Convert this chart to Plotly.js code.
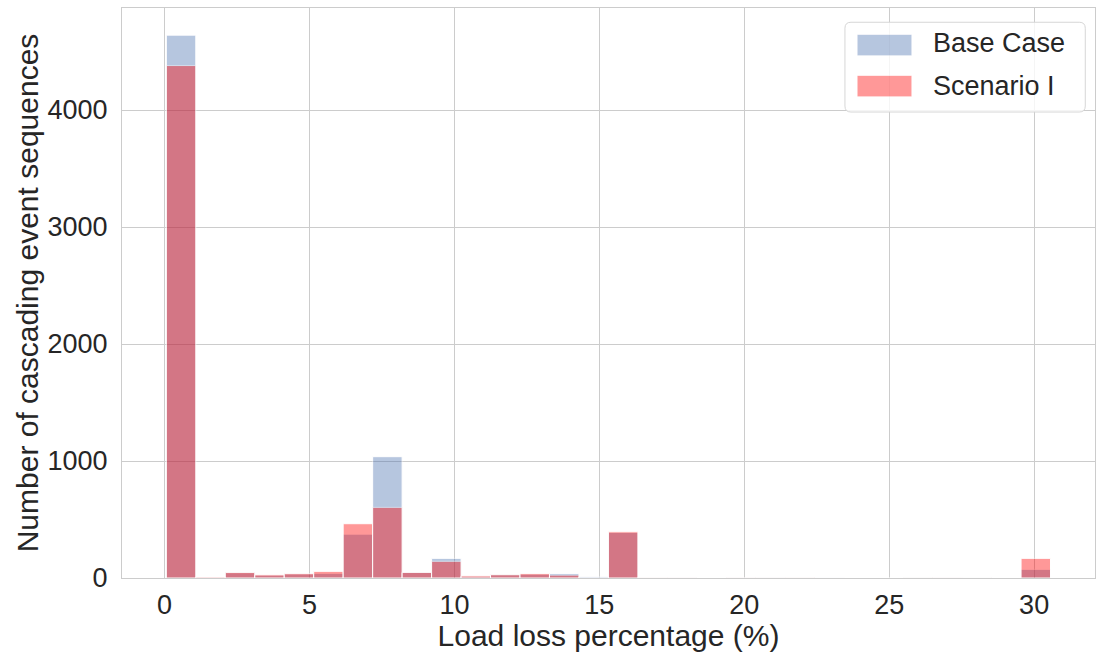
<!DOCTYPE html>
<html>
<head>
<meta charset="utf-8">
<script src="https://cdn.plot.ly/plotly-3.0.1.min.js"></script>
<style>
  html, body { margin: 0; padding: 0; background: #ffffff; }
  #chart { width: 1096px; height: 652px; }
</style>
</head>
<body>
<div id="chart"></div>
<script>
// Histogram bin centres (load loss percentage, %)
const binCenters = [0.568, 1.585, 2.602, 3.619, 4.635, 5.652, 6.669, 7.686, 8.703, 9.720,
                    10.737, 11.753, 12.770, 13.787, 14.804, 15.821, 16.838, 17.855, 18.871, 19.888,
                    20.905, 21.922, 22.939, 23.956, 24.973, 25.989, 27.006, 28.023, 29.040, 30.057];
const binWidth = 1.0167;
// Counts of cascading event sequences per bin
const baseCase = [4640, 6, 45, 25, 35, 40, 375, 1037, 48, 168,
                  15, 28, 33, 38, 12, 390, 2, 1, 0, 1,
                  3, 2, 1, 0, 0, 3, 1, 2, 0, 74];
const scenarioI = [4380, 8, 48, 27, 37, 57, 464, 604, 48, 143,
                   18, 28, 37, 25, 4, 395, 5, 2, 0, 3,
                   2, 3, 4, 0, 0, 1, 3, 4, 0, 168];
const seriesNames = ["Base Case", "Scenario I"];
const xTicks = [0, 5, 10, 15, 20, 25, 30];
const yTicks = [0, 1000, 2000, 3000, 4000];

const blue = "rgb(76,114,176)";
const red = "rgb(255,0,0)";
const fontFam = "'Liberation Sans', Arial, sans-serif";
const txt = "#262626";

const traces = [
  { type: "bar", name: seriesNames[0], x: binCenters, y: baseCase,
    width: binCenters.map(() => binWidth), opacity: 0.4,
    marker: { color: blue, line: { color: "#ffffff", width: 1 } }, showlegend: false },
  { type: "bar", name: seriesNames[1], x: binCenters, y: scenarioI,
    width: binCenters.map(() => binWidth), opacity: 0.4,
    marker: { color: red, line: { color: "#ffffff", width: 1 } }, showlegend: false }
];

// custom legend (paper coordinates)
const lx0 = 0.743, lx1 = 0.990, ly0 = 0.8175, ly1 = 0.975, rx = 0.0062, ry = 0.0105;
const legendPath = `M ${lx0+rx} ${ly1} L ${lx1-rx} ${ly1} Q ${lx1} ${ly1} ${lx1} ${ly1-ry} L ${lx1} ${ly0+ry} Q ${lx1} ${ly0} ${lx1-rx} ${ly0} L ${lx0+rx} ${ly0} Q ${lx0} ${ly0} ${lx0} ${ly0+ry} L ${lx0} ${ly1-ry} Q ${lx0} ${ly1} ${lx0+rx} ${ly1} Z`;

const layout = {
  width: 1096, height: 652,
  margin: { l: 122, r: 1, t: 8, b: 74 },
  paper_bgcolor: "#ffffff", plot_bgcolor: "#ffffff",
  barmode: "overlay", bargap: 0,
  font: { family: fontFam, color: txt, size: 27 },
  xaxis: {
    range: [-1.47, 32.1], tickvals: xTicks, ticktext: xTicks.map(String),
    showgrid: true, gridcolor: "#cccccc", gridwidth: 1, zeroline: false,
    showline: true, mirror: true, linecolor: "#cccccc", linewidth: 1,
    ticks: "", ticklabelstandoff: 3,
    tickfont: { family: fontFam, size: 27, color: txt },
    title: { text: "Load loss percentage (%)", font: { family: fontFam, size: 30, color: txt }, standoff: 0 },
    automargin: false
  },
  yaxis: {
    range: [0, 4872], tickvals: yTicks, ticktext: yTicks.map(String),
    showgrid: true, gridcolor: "#cccccc", gridwidth: 1, zeroline: false,
    showline: true, mirror: true, linecolor: "#cccccc", linewidth: 1,
    ticks: "", ticklabelstandoff: 8,
    tickfont: { family: fontFam, size: 27, color: txt },
    title: { text: "Number of cascading event sequences", font: { family: fontFam, size: 30, color: txt }, standoff: 0 },
    automargin: false
  },
  shapes: [
    { type: "path", xref: "paper", yref: "paper", path: legendPath,
      fillcolor: "rgba(255,255,255,0.8)", line: { color: "#d6d6d6", width: 1 } },
    { type: "rect", xref: "paper", yref: "paper", x0: 0.7554, x1: 0.8119, y0: 0.916, y1: 0.954,
      fillcolor: blue, opacity: 0.4, line: { color: "#ffffff", width: 1 } },
    { type: "rect", xref: "paper", yref: "paper", x0: 0.7554, x1: 0.8119, y0: 0.844, y1: 0.882,
      fillcolor: red, opacity: 0.4, line: { color: "#ffffff", width: 1 } }
  ],
  annotations: [
    { xref: "paper", yref: "paper", x: 0.8315, y: 0.9386, xanchor: "left", yanchor: "middle",
      text: seriesNames[0], showarrow: false, font: { family: fontFam, size: 27, color: txt } },
    { xref: "paper", yref: "paper", x: 0.8315, y: 0.863, xanchor: "left", yanchor: "middle",
      text: seriesNames[1], showarrow: false, font: { family: fontFam, size: 27, color: txt } }
  ]
};

Plotly.newPlot("chart", traces, layout, { displayModeBar: false, staticPlot: true });
</script>
</body>
</html>
